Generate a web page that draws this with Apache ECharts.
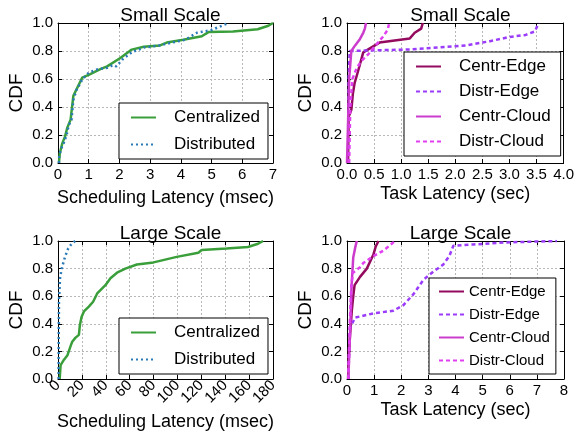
<!DOCTYPE html>
<html><head><meta charset="utf-8">
<script src="https://cdn.jsdelivr.net/npm/echarts@6/dist/echarts.min.js"></script>
<style>html,body{margin:0;padding:0;background:#fff}#c{width:577px;height:432px}</style>
</head><body><div id="c"></div>
<script>
// ---- data ----
const titles = ['Small Scale', 'Small Scale', 'Large Scale', 'Large Scale'];
const xNames = ['Scheduling Latency (msec)', 'Task Latency (sec)', 'Scheduling Latency (msec)', 'Task Latency (sec)'];
const schedNames = ['Centralized', 'Distributed'];
const taskNames = ['Centr-Edge', 'Distr-Edge', 'Centr-Cloud', 'Distr-Cloud'];

const smallSchedCentr = [[0.03,0],[0.06,0.07],[0.14,0.14],[0.23,0.19],[0.3,0.25],[0.41,0.31],[0.5,0.48],[0.79,0.61],[1.0,0.63],[1.38,0.67],[1.6,0.69],[2.03,0.75],[2.4,0.81],[2.79,0.83],[3.32,0.84],[3.54,0.86],[4.08,0.88],[4.68,0.905],[4.9,0.935],[5.7,0.94],[6.5,0.955],[6.85,0.98],[7.0,1.0]];
const smallSchedDistr = [[0.03,0],[0.04,0.05],[0.1,0.1],[0.2,0.15],[0.28,0.2],[0.35,0.27],[0.44,0.31],[0.5,0.45],[0.6,0.52],[0.8,0.6],[1.0,0.645],[1.3,0.67],[1.6,0.68],[1.8,0.7],[1.9,0.69],[2.1,0.74],[2.4,0.79],[2.8,0.825],[3.32,0.84],[3.7,0.86],[4.14,0.88],[4.52,0.93],[5.0,0.95],[5.55,1.0]];

const smallTaskCentrEdge = [[0.02,0],[0.03,0.33],[0.08,0.38],[0.11,0.5],[0.14,0.57],[0.2,0.65],[0.3,0.79],[0.6,0.86],[1.16,0.89],[1.25,0.93],[1.37,0.96],[1.4,1.0]];
const smallTaskDistrEdge = [[0.02,0],[0.03,0.6],[0.05,0.8],[0.5,0.805],[1.1,0.81],[1.71,0.826],[2.2,0.84],[2.64,0.87],[3.0,0.9],[3.3,0.915],[3.47,0.94],[3.54,1.0]];
const smallTaskCentrCloud = [[0.0,0],[0.02,0.3],[0.04,0.6],[0.08,0.8],[0.15,0.84],[0.23,0.88],[0.3,0.93],[0.33,0.96],[0.35,1.0]];
const smallTaskDistrCloud = [[0.04,0],[0.06,0.4],[0.1,0.6],[0.18,0.68],[0.27,0.73],[0.4,0.78],[0.55,0.85],[0.66,0.9],[0.75,0.95],[0.78,1.0]];

const largeSchedCentr = [[1.4,0],[2.2,0.1],[5,0.14],[7.8,0.17],[10.6,0.24],[11.9,0.27],[14.7,0.3],[17.5,0.32],[18.3,0.39],[19.7,0.45],[21.7,0.49],[25.8,0.525],[29.4,0.56],[32.8,0.62],[39.7,0.68],[43.9,0.73],[49.4,0.77],[56.4,0.8],[66,0.83],[80,0.845],[99.4,0.885],[117.5,0.915],[120.3,0.935],[141,0.945],[159,0.957],[167.5,0.98],[171.7,1.0]];
const largeSchedDistr = [[0.5,0],[0.6,0.25],[0.8,0.56],[1.7,0.73],[3.1,0.8],[5.9,0.886],[8.6,0.947],[11.5,0.98],[14.5,1.0]];

const largeTaskCentrEdge = [[0.04,0],[0.07,0.2],[0.12,0.34],[0.18,0.5],[0.23,0.6],[0.28,0.68],[0.48,0.74],[0.73,0.8],[0.97,0.9],[1.06,0.96],[1.16,1.0]];
const largeTaskDistrEdge = [[0.05,0],[0.08,0.2],[0.11,0.37],[0.3,0.445],[0.97,0.475],[1.71,0.495],[2.08,0.535],[2.45,0.615],[2.82,0.72],[3.2,0.78],[3.55,0.83],[3.77,0.89],[3.92,0.965],[4.66,0.975],[5.89,0.99],[7.74,1.0]];
const largeTaskCentrCloud = [[0.05,0],[0.11,0.32],[0.17,0.68],[0.23,0.88],[0.3,0.95],[0.36,1.0]];
const largeTaskDistrCloud = [[0.05,0],[0.07,0.17],[0.1,0.39],[0.16,0.68],[0.22,0.77],[0.48,0.81],[0.6,0.84],[0.97,0.89],[1.34,0.93],[1.77,1.0]];

const xMax = [7, 4, 180, 8];
const xInterval = [1, 0.5, 20, 1];

// ---- styling ----
const FONT = 'Liberation Sans, Arial, sans-serif';
const cGreen = '#3a9f3a', cBlue = '#2a7ab8';
const cCE = '#930a5e', cDE = '#9b3cfa', cCC = '#cc3ccc', cDC = '#e040f0';
const grids = [
  {left:58, top:23, width:215, height:140},
  {left:347, top:23, width:217, height:140},
  {left:58, top:241, width:215, height:138},
  {left:347, top:241, width:217, height:138}
];
const xNameGaps = [26, 22, 34, 22];

const xAxes = [], yAxes = [];
grids.forEach((g, i) => {
  const fmt = i === 1 ? (v => v.toFixed(1)) : (v => String(v));
  xAxes.push({
    type:'value', gridIndex:i, min:0, max:xMax[i], interval:xInterval[i],
    name:xNames[i], nameLocation:'middle', nameGap:xNameGaps[i],
    nameTextStyle:{fontFamily:FONT, fontSize:18, color:'#000'},
    axisLine:{show:true, onZero:false, lineStyle:{color:'#000', width:1}},
    axisTick:{show:true, inside:true, length:4, lineStyle:{color:'#000'}},
    axisLabel:{fontFamily:FONT, fontSize:15, color:'#000', margin:4, formatter:fmt, rotate: i===2 ? 45 : 0, showMinLabel:true, showMaxLabel:true, hideOverlap:false},
    splitLine:{show:true, lineStyle:{color:'#b8b8b8', type:[2,2], width:1}}
  });
  xAxes.push({
    type:'value', gridIndex:i, min:0, max:xMax[i], interval:xInterval[i], position:'top',
    axisLine:{show:true, onZero:false, lineStyle:{color:'#000', width:1}},
    axisTick:{show:true, inside:true, length:4, lineStyle:{color:'#000'}},
    axisLabel:{show:false}, splitLine:{show:false}
  });
  yAxes.push({
    type:'value', gridIndex:i, min:0, max:1, interval:0.2,
    name:'CDF', nameLocation:'middle', nameGap:32,
    nameTextStyle:{fontFamily:FONT, fontSize:19, color:'#000'},
    axisLine:{show:true, onZero:false, lineStyle:{color:'#000', width:1}},
    axisTick:{show:true, inside:true, length:4, lineStyle:{color:'#000'}},
    axisLabel:{fontFamily:FONT, fontSize:15, color:'#000', margin:5, formatter:v => v.toFixed(1)},
    splitLine:{show:true, lineStyle:{color:'#b8b8b8', type:[2,2], width:1}}
  });
  yAxes.push({
    type:'value', gridIndex:i, min:0, max:1, interval:0.2, position:'right',
    axisLine:{show:true, onZero:false, lineStyle:{color:'#000', width:1}},
    axisTick:{show:true, inside:true, length:4, lineStyle:{color:'#000'}},
    axisLabel:{show:false}, splitLine:{show:false}
  });
});

function line(name, data, gi, color, type, width) {
  return {
    type:'line', name:name, data:data, xAxisIndex:gi*2, yAxisIndex:gi*2,
    symbol:'none', smooth:false, animation:false,
    lineStyle:{color:color, type:type, width:width},
    itemStyle:{color:color}
  };
}

const series = [
  line(schedNames[0], smallSchedCentr, 0, cGreen, 'solid', 2.5),
  line(schedNames[1], smallSchedDistr, 0, cBlue, [2,3], 2.5),
  line(taskNames[0], smallTaskCentrEdge, 1, cCE, 'solid', 2.5),
  line(taskNames[1], smallTaskDistrEdge, 1, cDE, [4,3], 2.5),
  line(taskNames[2], smallTaskCentrCloud, 1, cCC, 'solid', 2.5),
  line(taskNames[3], smallTaskDistrCloud, 1, cDC, [4,3], 2.5),
  line(schedNames[0], largeSchedCentr, 2, cGreen, 'solid', 2.5),
  line(schedNames[1], largeSchedDistr, 2, cBlue, [2,3], 2.5),
  line(taskNames[0], largeTaskCentrEdge, 3, cCE, 'solid', 2.5),
  line(taskNames[1], largeTaskDistrEdge, 3, cDE, [4,3], 2.5),
  line(taskNames[2], largeTaskCentrCloud, 3, cCC, 'solid', 2.5),
  line(taskNames[3], largeTaskDistrCloud, 3, cDC, [4,3], 2.5)
];

function legend(names, left, top, fs, gap, padL, padR, textPad) {
  return {
    show:true, orient:'vertical', left:left, top:top, data:names,
    selectedMode:false, itemWidth:25, itemHeight:12, itemGap:gap,
    borderColor:'#000', borderWidth:1, borderRadius:0,
    padding:[6, padR, 6, padL],
    itemStyle:{opacity:0},
    textStyle:{fontFamily:FONT, fontSize:fs, color:'#000', padding:[0,0,0,textPad]},
    backgroundColor:'#fff'
  };
}

const titleObjs = grids.map((g, i) => ({
  text:titles[i], left:g.left + g.width/2, top:g.top - 22, textAlign:'center',
  textStyle:{fontFamily:FONT, fontSize:19, fontWeight:'normal', color:'#000'}
}));

const chart = echarts.init(document.getElementById('c'), null, {renderer:'canvas'});
chart.setOption({
  animation:false,
  backgroundColor:'#fff',
  title: titleObjs,
  grid: grids.map(g => Object.assign({show:false, containLabel:false}, g)),
  xAxis: xAxes,
  yAxis: yAxes,
  legend: [
    legend(schedNames, 119, 103, 17, 10, 11, 8, 13),
    legend(taskNames, 404, 52, 17, 8, 11, 10, 13),
    legend(schedNames, 119, 318, 17, 10, 11, 8, 13),
    legend(taskNames, 429, 278, 15, 8, 9, 6, 0)
  ],
  series: series
});
</script></body></html>
